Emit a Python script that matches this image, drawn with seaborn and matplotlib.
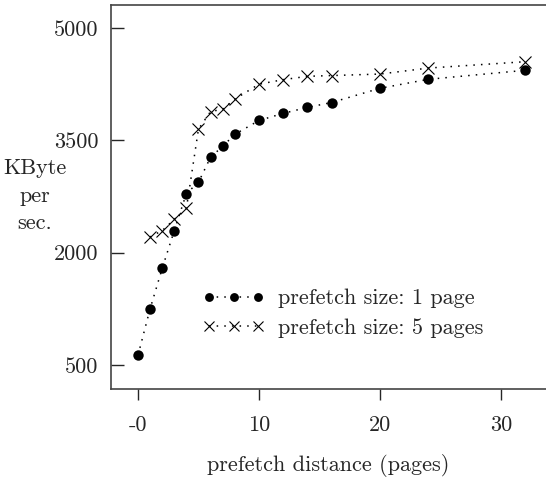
import matplotlib
matplotlib.use("Agg")
import matplotlib.pyplot as plt
import seaborn as sns
import pandas as pd

# prefetch size: 1 page
dist_1 = [0, 1, 2, 3, 4, 5, 6, 7, 8, 10, 12, 14, 16, 20, 24, 32]
rate_1 = [630, 1250, 1790, 2295, 2790, 2940, 3275, 3420, 3580, 3765, 3860, 3940, 4005, 4195, 4315, 4435]

# prefetch size: 5 pages
dist_5 = [1, 2, 3, 4, 5, 6, 7, 8, 10, 12, 14, 16, 20, 24, 32]
rate_5 = [2210, 2295, 2445, 2590, 3650, 3885, 3915, 4050, 4250, 4310, 4355, 4365, 4385, 4465, 4550]

x_ticks = [0, 10, 20, 30]
x_ticklabels = ["-0", "10", "20", "30"]
y_ticks = [500, 2000, 3500, 5000]

sns.set_style("white")
plt.rcParams["font.family"] = ["cmr10", "DejaVu Serif"]
plt.rcParams["axes.unicode_minus"] = False

df1 = pd.DataFrame({"dist": dist_1, "rate": rate_1})
df5 = pd.DataFrame({"dist": dist_5, "rate": rate_5})

fig = plt.figure(figsize=(5.46, 4.84), dpi=100)
ax = fig.add_axes([111 / 546, 1 - 389 / 484, 1 - 111 / 546, 384 / 484])

dots = (0, (1, 4))
sns.lineplot(data=df1, x="dist", y="rate", ax=ax, color="black", lw=1.1,
             linestyle=dots, marker="o", markersize=7.5, markeredgewidth=0,
             markeredgecolor="black", label="prefetch size: 1 page")
sns.lineplot(data=df5, x="dist", y="rate", ax=ax, color="black", lw=1.1,
             linestyle=dots, marker="x", markersize=8, markeredgewidth=0.8,
             markeredgecolor="black", label="prefetch size: 5 pages")

ax.set_xlim(-2.23, 33.72)
ax.set_ylim(180, 5307)
ax.set_xticks(x_ticks)
ax.set_xticklabels(x_ticklabels)
ax.set_yticks(y_ticks)
ax.tick_params(axis="x", direction="out", length=8, width=1, pad=11, labelsize=16)
ax.tick_params(axis="y", direction="in", length=9, width=1, pad=9, labelsize=16)
ax.tick_params(bottom=True, left=True)

for side in ["left", "bottom", "top"]:
    ax.spines[side].set_color("#444444")
    ax.spines[side].set_linewidth(1.2)
ax.spines["right"].set_visible(False)

ax.set_xlabel("prefetch distance (pages)", fontsize=16, labelpad=14)
ax.set_ylabel("")
fig.text(35 / 546, 1 - 196 / 484, "KByte\nper\nsec.", ha="center", va="center",
         fontsize=16, linespacing=1.5)

ax.legend(loc="center left", bbox_to_anchor=(0.165, 0.197), frameon=False,
          numpoints=3, markerscale=0.85, fontsize=16, handlelength=2.8,
          handletextpad=0.6, labelspacing=0.45)

fig.savefig("out.png", dpi=100)
